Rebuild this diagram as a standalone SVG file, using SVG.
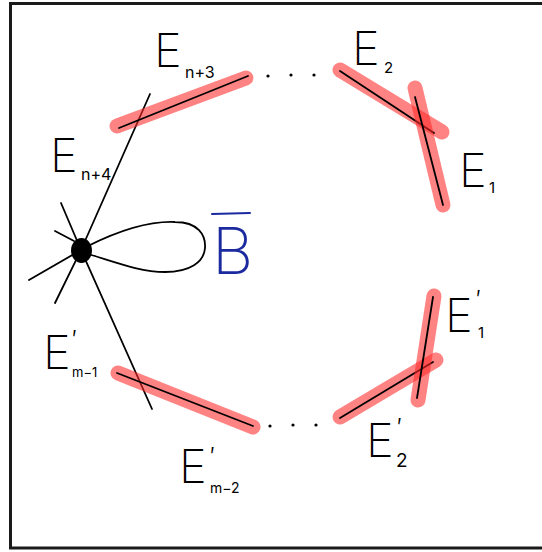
<svg xmlns="http://www.w3.org/2000/svg" width="542" height="552" viewBox="0 0 542 552">
<style>
.frame{fill:none;stroke:#1a1a1a;stroke-width:3}
.band{fill:none;stroke:#ff2a2a;stroke-opacity:0.58;stroke-width:15;stroke-linecap:round}
.ln{fill:none;stroke:#000;stroke-width:1.8;stroke-linecap:round}
.lbl{font-family:Inter,"Liberation Sans",sans-serif;font-weight:200;fill:#000}
.big{font-size:47px}
.sub{font-weight:400}
.prime{font-size:24px;font-weight:300}
.dot{fill:#000}
.blue{font-family:Inter,"Liberation Sans",sans-serif;font-weight:200;fill:#1c2aa0;font-size:64px}
</style>
<rect class="frame" x="10.5" y="3.5" width="560" height="544.5"/>

<g id="connectors">
  <line class="ln" x1="150" y1="94" x2="81" y2="250"/>
  <line class="ln" x1="81" y1="250" x2="152" y2="409"/>
  <line class="ln" x1="61" y1="203" x2="81" y2="250"/>
  <line class="ln" x1="55" y1="231" x2="74" y2="241"/>
  <line class="ln" x1="29" y1="280" x2="81" y2="250"/>
  <line class="ln" x1="55" y1="303" x2="81" y2="250"/>
</g>

<g id="node-B">
  <path class="ln" d="M 88 246 C 120 230, 150 221, 175 222 C 198 222, 206 235, 205 248 C 204 262, 190 272, 165 272 C 140 272, 115 262, 88 254"/>
  <ellipse cx="81.5" cy="250.5" rx="10.5" ry="12.5" fill="#000"/>
  <line x1="212" y1="214" x2="250" y2="213" stroke="#1c2aa0" stroke-width="2" stroke-linecap="round"/>
  <text class="blue" x="212" y="274">B</text>
</g>

<g id="E-n3">
  <line class="band" x1="117" y1="126" x2="246" y2="78"/>
  <line class="ln" x1="119" y1="128" x2="248" y2="76"/>
  <text class="lbl"><tspan class="big" x="154" y="67">E</tspan><tspan class="sub" x="185" y="78" font-size="16">n+3</tspan></text>
</g>

<g id="E-2">
  <line class="band" x1="340" y1="70" x2="442" y2="132"/>
  <line class="ln" x1="340" y1="71" x2="434" y2="133"/>
  <text class="lbl"><tspan class="big" x="352" y="65">E</tspan><tspan class="sub" x="384" y="73" font-size="15">2</tspan></text>
</g>

<g id="E-1">
  <line class="band" x1="415" y1="88" x2="443" y2="205"/>
  <line class="ln" x1="415" y1="97" x2="443" y2="205"/>
  <text class="lbl"><tspan class="big" x="459" y="187">E</tspan><tspan class="sub" x="489" y="193" font-size="15">1</tspan></text>
</g>

<g id="E-n4">
  <text class="lbl"><tspan class="big" x="50" y="172">E</tspan><tspan class="sub" x="81" y="180" font-size="16">n+4</tspan></text>
</g>

<g id="Ep-m1">
  <line class="band" x1="118" y1="373" x2="253" y2="427"/>
  <line class="ln" x1="117" y1="373" x2="253" y2="426"/>
  <text class="lbl"><tspan class="big" x="43" y="369">E</tspan><tspan class="prime" x="72" y="348">′</tspan><tspan class="sub" x="72" y="377" font-size="13">m−1</tspan></text>
</g>

<g id="Ep-m2">
  <text class="lbl"><tspan class="big" x="179" y="483">E</tspan><tspan class="prime" x="210" y="465">′</tspan><tspan class="sub" x="210" y="493" font-size="14">m−2</tspan></text>
</g>

<g id="Ep-2">
  <line class="band" x1="340" y1="417" x2="436" y2="360"/>
  <line class="ln" x1="340" y1="418" x2="433" y2="362"/>
  <text class="lbl"><tspan class="big" x="366" y="457">E</tspan><tspan class="prime" x="397" y="436">′</tspan><tspan class="sub" x="396" y="467" font-size="19">2</tspan></text>
</g>

<g id="Ep-1">
  <line class="band" x1="434" y1="296" x2="418" y2="400"/>
  <line class="ln" x1="433" y1="297" x2="417" y2="398"/>
  <text class="lbl"><tspan class="big" x="445" y="332">E</tspan><tspan class="prime" x="476" y="308">′</tspan><tspan class="sub" x="478" y="338" font-size="15">1</tspan></text>
</g>

<g id="dots">
  <circle class="dot" cx="268" cy="76" r="1.6"/>
  <circle class="dot" cx="291" cy="75" r="1.6"/>
  <circle class="dot" cx="314" cy="75" r="1.6"/>
  <circle class="dot" cx="270" cy="426" r="1.6"/>
  <circle class="dot" cx="293" cy="425" r="1.6"/>
  <circle class="dot" cx="316" cy="425" r="1.6"/>
</g>
</svg>
